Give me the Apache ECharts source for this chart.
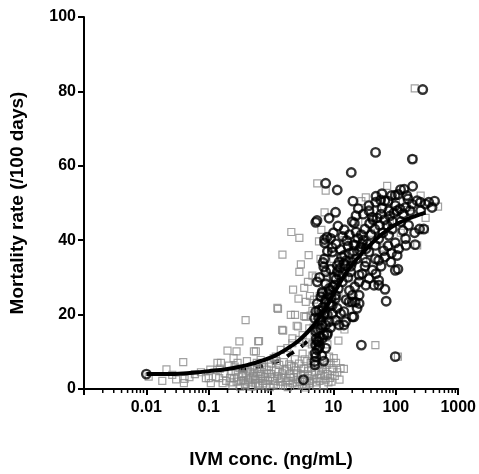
<!DOCTYPE html>
<html><head><meta charset="utf-8">
<script src="https://cdn.jsdelivr.net/npm/echarts@6/dist/echarts.min.js"></script>
<style>html,body{margin:0;padding:0;background:#fff}#c{width:479px;height:474px}</style>
</head><body><div id="c"></div>
<script>
const xTickLabels = ['', '0.01', '0.1', '1', '10', '100', '1000'];
const yTicks = [0, 20, 40, 60, 80, 100];

const squarePoints = [
[0.0109,3.3],[0.018,2.2],[0.021,5.3],[0.026,3.8],[0.03,2.6],[0.039,7.2],[0.040,1.6],[0.041,2.7],[0.049,3.2],[0.06,4.0],[0.075,4.5],[0.09,2.9],[0.1,2.9],[0.106,5.2],[0.108,1.6],[0.13,3.2],[0.138,7.0],[0.157,7.0],[0.147,2.9],[0.167,1.6],[0.2,10.3],[0.226,4.7],[0.25,8.3],[0.255,2.9],[0.279,10.1],[0.31,12.8],[0.31,5.6],[0.33,2.1],[0.39,18.5],[0.39,1.3],[0.57,10.1],[0.62,12.8],[0.64,12.9],[0.53,10.1],[0.68,7.8],[1.1,8.3],[1.19,8.7],[1.43,10.5],[1.82,11],[2.19,12.3],[2.8,13.2],
[0.18,4.2],[0.22,3.0],[0.24,1.0],[0.27,4.5],[0.3,3.2],[0.32,0.6],[0.35,4.0],[0.36,2.4],[0.4,3.6],[0.42,5.0],[0.45,1.8],[0.47,3.0],[0.5,6.0],[0.5,0.8],[0.52,4.2],[0.55,2.5],[0.58,3.5],[0.6,5.5],[0.62,1.2],[0.65,2.8],[0.7,4.0],[0.72,6.5],[0.75,1.5],[0.8,3.2],[0.85,5.2],[0.9,2.2],[0.95,0.5],[1.0,4.0],[1.0,6.8],[1.05,2.8],[1.1,1.2],[1.2,5.0],[1.25,3.5],[1.3,0.8],[1.35,6.5],[1.4,2.0],[1.5,4.2],[1.55,1.0],[1.6,7.2],[1.7,3.0],[1.8,5.5],[1.85,0.5],[1.9,2.2],[2.0,4.0],[2.1,6.2],[2.2,1.5],[2.3,3.2],[2.4,8.0],[2.5,5.0],[2.6,0.8],[2.7,2.5],[2.8,6.8],[3.0,3.8],[3.1,1.2],[3.2,9.5],[3.4,5.5],[3.5,2.0],[3.6,0.4],[3.8,7.5],[4.0,3.5],[4.2,1.5],[4.4,5.8],[4.6,9.0],[4.8,2.6],[5.0,4.5],[5.3,0.9],[5.6,6.5],[6.0,2.2],[6.3,3.8],[6.8,5.2],[7.0,1.0],[7.5,2.5],[8.0,4.0],[8.5,8.7],[9.0,7.0],[9.6,5.6],[9.6,4.7],[10.1,8.3],[11,7.0],[13,5.6],[14.7,5.4],
[0.15,5.5],[0.19,2.2],[0.21,6.3],[0.23,1.8],[0.26,6.0],[0.28,2.0],[0.29,7.0],[0.34,3.5],[0.37,5.5],[0.38,1.0],[0.41,7.5],[0.43,2.3],[0.46,4.6],[0.48,0.6],[0.51,3.3],[0.54,5.5],[0.56,1.5],[0.59,7.0],[0.63,4.5],[0.66,0.9],[0.69,3.5],[0.73,2.2],[0.77,5.8],[0.82,1.0],[0.87,4.2],[0.92,6.0],[0.97,3.2],[1.15,2.2],[1.22,7.5],[1.32,4.6],[1.45,3.0],[1.65,5.0],[1.75,1.8],[1.95,6.6],[2.05,3.0],[2.35,5.8],[2.55,1.8],[2.65,4.2],[2.9,2.0],[3.05,5.5],[3.3,4.0],[3.45,8.0],[3.7,1.2],[3.9,4.8],[4.1,2.2],[4.3,7.0],[4.5,3.8],[4.9,6.2],[5.2,1.8],[5.5,3.0],[5.9,4.8],[6.5,6.0],[7.2,3.5],[7.8,6.5],[8.3,1.8],[8.8,3.0],[9.3,2.0],[10.5,3.5],[11.5,4.5],[12.5,2.5],
[4.5,12.0],[5.0,14.0],[4.8,16.5],[3.2,14.5],[3.7,12.5],[4.6,21.0],[4.9,24.0],[4.2,25.0],[6.5,20.0],[7.5,26.0],[5.2,30.0],[3.0,33.5],[4.0,36.0],[6.2,35.0],[4.6,30.5],
[1.26,21.8],[1.29,21.5],[1.5,15.9],[1.52,36.1],[1.56,15.7],[2.07,19.9],[2.11,42.2],[2.2,13.6],[2.25,26.7],[2.42,19.9],[2.57,17.0],[2.7,16.8],[2.75,24.3],[2.84,40.6],[2.84,31.5],[3.4,19.6],[3.4,27.2],[3.6,23.4],[3.6,19.4],[3.9,28.8],[4.1,16.3],[4.3,19.7],[5.5,55.3],[5.86,39.7],[6.4,42.8],[7.2,47.5],[7.5,53.3],[28,50.5],[33,51.5],[47,11.8],[72.6,54.6],[108,8.7],[190,61.8],[201,80.8],[220,38.6],[290,43],[475,49],
[8,30],[10,35],[12,25],[15,40],[20,30],[25,45],[30,35],[40,42],[50,48],[60,38],[80,45],[100,50],[120,42],[150,50],[180,47],[250,52],[300,46],[6,15],[8,12],[10,18],[12,13],[15,16],[5,12],[6,25],[9,28]
];

const circlePoints = [
[0.01,4.0],[3.3,2.5],[5.0,7.4],[5.2,8.7],[5.06,9.6],[5.5,10.5],[5.06,6.5],[5.8,12.8],[7.5,11],[7.0,14.5],[5.2,15.4],[6.6,17.2],[5.8,19],[5.2,20.8],[5.5,12.8],[5.2,11.8],[5.8,11],[7.9,14.5],[6.6,13.6],[6.2,16.3],[7.5,17.2],[5.0,19],[7.0,19.9],[5.8,21.2],[8.5,18.1],[10.8,18.5],[14.7,17.2],[15.6,18.1],[20,19.4],[12.3,17.2],[9.6,20.3],[13,20.3],[14.7,20.8],[23.9,21.7],[22.3,23.4],[20,25.2],[25.8,25.2],[9.6,22.5],[10.8,24.3],[8.5,23],[5.5,23],[7.5,23.4],[9.0,22.5],[11.5,21.7],[20,23.4],[25.8,23],[21.2,19.4],[28,11.8],[98,8.7],[70,23.6],[17.7,23.4],[10.8,25.2],[6.6,25.7],[6.3,24.8],[6.6,26.1],[8.5,27],[7.5,28.3],[5.5,28.8],[7.5,31.5],[7.0,32.8],[9.0,32.2],[12.3,30.6],[13.9,28.8],[18.9,31.5],[25.8,30.6],[25.8,28.8],[33,27.9],[37,29.7],[44.7,27.9],[53.2,27.9],[53,29.2],[67,26.8],[98,31.9],[108,32.2],[7.2,35],[11.5,33.2],[15.6,33.2],[14.6,33.7],[9.6,36.8],[12.3,34.1],[20,34.1],[33.3,34.1],[37,36.8],[47,35],[53,34.6],[67,35.5],[83,34.1],[105,35.9],[16.3,39.9],[17.1,38.4],[21.2,38.8],[22.3,38.6],[28.6,39],[33.3,37.7],[27.5,38.2],[47,38.6],[53.2,40.4],[63.7,37.2],[77,41.3],[98,39.3],[111,37.7],[143,40.4],[145,38.6],[204,38.8],[240,43],[280,43],[130,42.6],[87.5,43],[7.2,40.2],[7.9,40.8],[7.2,39.3],[5.2,44.8],[8.5,45.9],[10.8,47.5],[11.8,43.8],[14.9,42.8],[23,46.6],[21.6,44.6],[23,42.2],[37,49.3],[37,47.9],[41.8,46.2],[47.3,50.2],[48,51.8],[57,50.8],[67,50.6],[75,50.5],[60,48.6],[77,47.9],[93,47.3],[105,47.9],[98,49.3],[116,48.4],[143,48.8],[131,47.1],[169,47.9],[182,49.7],[219,50.6],[248,50.2],[298,49.7],[337,50.2],[381,48.8],[418,50.5],[98,52.1],[109,52.3],[136,53.7],[119,53.6],[157,51.1],[186,54.5],[20.5,50.5],[11.5,53.5],[7.5,55.3],[19.3,58.2],[47.3,63.6],[184,61.8],[270,80.5],[5.44,45.3],
[5.3,13.5],[5.6,16.0],[6.0,14.0],[6.2,18.5],[6.5,21.0],[6.8,22.0],[7.2,20.5],[7.6,24.0],[8.0,20.0],[8.2,25.5],[8.8,26.5],[9.2,24.5],[9.8,27.5],[10.2,30.0],[10.5,28.0],[11.0,29.5],[11.5,31.5],[12.0,27.0],[12.8,32.5],[13.5,35.5],[14.2,31.0],[15.0,36.0],[16.0,34.5],[17.0,30.0],[18.0,36.5],[19.0,33.0],[21.0,37.0],[23.5,35.0],[24.5,40.5],[26.0,37.5],[28.0,41.5],[30.0,40.0],[32.0,43.0],[35.0,39.0],[38.0,44.5],[40.0,41.5],[43.0,45.5],[46.0,43.0],[50.0,46.0],[55.0,44.0],[58.0,47.0],[62.0,42.0],[66.0,45.5],[72.0,44.0],[80.0,46.5],[88.0,45.0],[6.0,30.0],[6.8,34.0],[8.0,37.0],[9.0,40.5],[10.0,42.0],[9.5,38.0],[11.0,39.0],[13.0,37.5],[14.0,41.0],[18.0,41.5],[20.0,45.0],[25.0,48.5],[30.0,47.0],[16.0,24.0],[18.0,26.5],[22.0,27.5],[29.0,31.0],[32.0,33.0],[42.0,32.0],[48.0,31.0],[58.0,33.0],[75.0,38.5],[85.0,36.5],[120,45.0],[160,44.0],[200,42.0],[60,52.5],[85,52.0],[150,52.0],[250,48.0],[6.5,9.0],[7.0,7.5],[6.0,11.5],[8.0,15.0],[9.0,16.5]
];

const fitSolid = [
[0.01,4.0],[0.02,4.0],[0.05,4.3],[0.1,4.8],[0.2,5.4],[0.3,5.9],[0.5,6.8],[1,8.5],[1.5,10],[2,11.3],[3,13.5],[5,17.5],[7,21],[10,25.5],[15,30.5],[20,33.5],[30,36.8],[50,40.5],[70,42.5],[100,44.2],[150,45.6],[200,46.4],[300,47.4]
];
const fitDashed = [
[0.3,5.0],[0.5,5.6],[1,6.9],[1.5,8.0],[2,9.3],[3,11.3],[5,14.8]
];

const minorTicks = [];
for (let d = -3; d < 3; d++) for (let m = 2; m <= 9; m++) minorTicks.push(m * Math.pow(10, d));

const FONT = '"Liberation Sans", Arial, Helvetica, sans-serif';
const chart = echarts.init(document.getElementById('c'), null, {renderer: 'canvas'});
chart.setOption({
  animation: false,
  backgroundColor: '#fff',
  grid: {left: 84, right: 20, top: 17, bottom: 83, containLabel: false},
  xAxis: {
    type: 'log', min: 0.001, max: 1000, logBase: 10,
    name: 'IVM conc. (ng/mL)', nameLocation: 'middle', nameGap: 61,
    nameTextStyle: {fontFamily: FONT, fontWeight: 'bold', fontSize: 19, color: '#000'},
    axisLine: {show: true, lineStyle: {color: '#000', width: 2}},
    axisTick: {show: true, length: 6, lineStyle: {color: '#000', width: 2}},
    axisLabel: {fontFamily: FONT, fontWeight: 'bold', fontSize: 16, color: '#000', margin: 11,
      formatter: v => xTickLabels[Math.round(Math.log10(v)) + 3] || ''},
    splitLine: {show: false}
  },
  yAxis: {
    type: 'value', min: 0, max: 100, interval: 20,
    name: 'Mortality rate (/100 days)', nameLocation: 'middle', nameGap: 57,
    nameTextStyle: {fontFamily: FONT, fontWeight: 'bold', fontSize: 19, color: '#000'},
    axisLine: {show: true, lineStyle: {color: '#000', width: 2}},
    axisTick: {show: true, length: 6, lineStyle: {color: '#000', width: 2}},
    axisLabel: {fontFamily: FONT, fontWeight: 'bold', fontSize: 16, color: '#000', margin: 8,
      formatter: v => yTicks.includes(v) ? String(v) : ''},
    splitLine: {show: false}
  },
  series: [
    {
      type: 'custom', data: minorTicks.map(v => [v, 0]), clip: false, silent: true, z: 1,
      renderItem: (params, api) => {
        const p = api.coord([api.value(0), 0]);
        return {type: 'line', shape: {x1: p[0], y1: p[1], x2: p[0], y2: p[1] + 4},
          style: {stroke: '#000', lineWidth: 1.5}};
      }
    },
    {type: 'line', data: fitDashed, showSymbol: false, smooth: true, z: 2,
      lineStyle: {color: '#000', width: 4, type: [8, 9]}},
    {type: 'scatter', data: squarePoints, symbol: 'rect', symbolSize: 7, z: 3,
      itemStyle: {color: 'rgba(255,255,255,0)', borderColor: '#8a8a8a', borderWidth: 1.2}},
    {type: 'scatter', data: circlePoints, symbol: 'circle', symbolSize: 8.5, z: 4,
      itemStyle: {color: 'rgba(255,255,255,0)', borderColor: '#000', borderWidth: 2.4}},
    {type: 'line', data: fitSolid, showSymbol: false, smooth: true, z: 5,
      lineStyle: {color: '#000', width: 4}}
  ]
});
</script></body></html>
